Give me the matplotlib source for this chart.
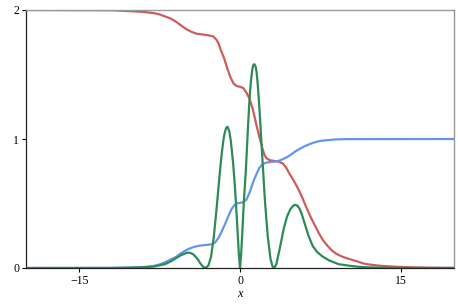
import matplotlib

matplotlib.use("Agg")

import matplotlib.pyplot as plt

# values
red_x = [-20, -12, -10, -9, -8, -7.5, -7, -6.5, -6, -5.5, -5, -4.5, -4, -3.5, -3,
         -2.5, -2.2, -2.0, -1.8, -1.5, -1.2, -0.9, -0.6, -0.3, 0, 0.3, 0.6, 0.9,
         1.2, 1.5, 1.8, 2.05, 2.25, 2.45, 2.8, 3.2, 3.6, 4.0, 4.3, 4.6, 5.0, 5.4,
         5.8, 6.2, 6.6, 7.0, 7.4, 7.8, 8.2, 8.6, 9.0, 9.5, 10, 11, 11.5, 12, 13,
         14, 15, 16, 18, 20]
red_y = [2.0, 1.998, 1.99, 1.985, 1.975, 1.965, 1.95, 1.935, 1.91, 1.88, 1.85,
         1.83, 1.815, 1.81, 1.805, 1.795, 1.77, 1.74, 1.69, 1.63, 1.55, 1.48,
         1.43, 1.41, 1.405, 1.395, 1.36, 1.31, 1.23, 1.12, 1.02, 0.94, 0.885,
         0.852, 0.835, 0.83, 0.825, 0.81, 0.78, 0.735, 0.68, 0.62, 0.55, 0.47,
         0.395, 0.33, 0.265, 0.21, 0.17, 0.135, 0.11, 0.09, 0.075, 0.05, 0.036,
         0.028, 0.018, 0.012, 0.008, 0.005, 0.002, 0.001]

blue_x = [-20, -12, -10.3, -9.5, -8.5, -8, -7.5, -7, -6.5, -6, -5.5, -5, -4.5,
          -4, -3.5, -3, -2.6, -2.3, -2.0, -1.7, -1.4, -1.1, -0.8, -0.5, -0.2, 0,
          0.3, 0.6, 0.9, 1.2, 1.5, 1.8, 2.1, 2.5, 3.0, 3.5, 3.9, 4.3, 4.7, 5.1,
          5.5, 6.0, 6.5, 7.0, 7.5, 8.0, 9, 10, 20]
blue_y = [0, 0.001, 0.003, 0.006, 0.01, 0.017, 0.028, 0.045, 0.065, 0.085,
          0.115, 0.14, 0.158, 0.17, 0.176, 0.18, 0.185, 0.2, 0.235, 0.285, 0.34,
          0.4, 0.455, 0.49, 0.503, 0.505, 0.51, 0.53, 0.585, 0.66, 0.72, 0.775,
          0.805, 0.818, 0.823, 0.828, 0.84, 0.855, 0.875, 0.9, 0.92, 0.942,
          0.96, 0.975, 0.985, 0.99, 0.997, 0.999, 1.0]

green_x = [-20, -12, -10, -9, -8, -7, -6.5, -6, -5.5, -5, -4.75, -4.4, -4, -3.7,
           -3.45, -3.2, -2.95, -2.7, -2.45, -2.2, -1.95, -1.83, -1.7, -1.57,
           -1.45, -1.3, -1.16, -1.0, -0.85, -0.65, -0.5, -0.4, -0.3, -0.2, -0.1,
           0, 0.1, 0.2, 0.35, 0.45, 0.55, 0.65, 0.75, 0.85, 0.95, 1.05, 1.15,
           1.25, 1.34, 1.45, 1.55, 1.65, 1.75, 1.85, 1.95, 2.05, 2.15, 2.25,
           2.35, 2.6, 2.85, 3.05, 3.2, 3.4, 3.75, 4.1, 4.4, 4.7, 5.0, 5.2, 5.4,
           5.6, 5.8, 6.1, 6.4, 6.8, 7.2, 7.7, 8.3, 9.2, 10, 11, 12, 14, 20]
green_y = [0, 0, 0.003, 0.006, 0.012, 0.03, 0.05, 0.075, 0.1, 0.117, 0.12,
           0.108, 0.075, 0.035, 0.01, 0.0, 0.02, 0.09, 0.24, 0.45, 0.68, 0.79,
           0.89, 0.98, 1.04, 1.085, 1.095, 1.06, 0.98, 0.82, 0.66, 0.53, 0.39,
           0.24, 0.1, 0.0, 0.1, 0.25, 0.5, 0.63, 0.76, 0.93, 1.10, 1.25, 1.38,
           1.47, 1.54, 1.575, 1.58, 1.565, 1.52, 1.43, 1.32, 1.19, 1.05, 0.91,
           0.77, 0.63, 0.5, 0.24, 0.07, 0.01, 0.0, 0.03, 0.165, 0.31, 0.40,
           0.455, 0.485, 0.49, 0.48, 0.455, 0.41, 0.33, 0.25, 0.17, 0.125, 0.09,
           0.06, 0.03, 0.02, 0.01, 0.005, 0.001, 0]

x_ticks = [-15, 0, 15]
y_ticks = [0, 1, 2]

plt.rcParams["font.family"] = ["Liberation Serif", "DejaVu Serif"]

fig = plt.figure(figsize=(4.58, 3.06), dpi=100)
ax = fig.add_axes([26 / 458, 1 - 268 / 306, 428 / 458, 258 / 306])

ax.plot(red_x, red_y, color="#cd5c5c", linewidth=1.6)
ax.plot(blue_x, blue_y, color="#6495ed", linewidth=1.6)
ax.plot(green_x, green_y, color="#2e8b57", linewidth=1.6)

ax.set_xlim(-20, 20)
ax.set_ylim(0, 2)
ax.set_xticks(x_ticks)
ax.set_xticklabels(["\u221215", "0", "15"])
ax.set_yticks(y_ticks)
ax.tick_params(direction="out", length=3, width=0.8, pad=2, labelsize=8.5)
ax.set_xlabel("x", style="italic", fontsize=9, labelpad=1)

for side in ("top", "right"):
    ax.spines[side].set_color("#999999")
    ax.spines[side].set_linewidth(1.0)
for side in ("left", "bottom"):
    ax.spines[side].set_color("#222222")
    ax.spines[side].set_linewidth(0.9)

fig.savefig("out.png", dpi=100)
